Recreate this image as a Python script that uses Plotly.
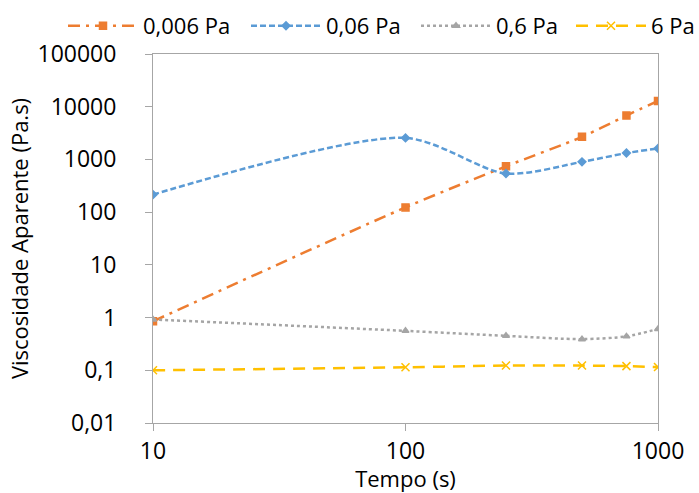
import plotly.graph_objects as go

tempo = [10, 100, 250, 500, 750, 1000]
v_0006 = [0.85, 123, 740, 2680, 6800, 12900]
v_006 = [215, 2560, 540, 900, 1320, 1620]
v_06 = [0.92, 0.56, 0.45, 0.39, 0.44, 0.61]
v_6 = [0.10, 0.114, 0.123, 0.123, 0.12, 0.115]

names = ["0,006 Pa", "0,06 Pa", "0,6 Pa", "6 Pa"]
y_ticks = [0.01, 0.1, 1, 10, 100, 1000, 10000, 100000]
y_tick_text = ["0,01", "0,1", "1", "10", "100", "1000", "10000", "100000"]
x_ticks = [10, 100, 1000]
x_tick_text = ["10", "100", "1000"]

FONT = "Open Sans"
W, H = 699, 493

styles = [
    dict(color="#ED7D31", dash="12px,6px,3px,6px", symbol="square", size=7),
    dict(color="#5B9BD5", dash="6px,3px", symbol="diamond", size=6),
    dict(color="#A5A5A5", dash="dot", symbol="triangle-up", size=6),
    dict(color="#FFC000", dash="12px,8px", symbol="x-thin", size=8),
]
legend_ids = ["legend", "legend2", "legend3", "legend4"]
legend_x_px = [63, 246, 416, 571]

fig = go.Figure()
for name, vals, st, lid in zip(names, [v_0006, v_006, v_06, v_6], styles, legend_ids):
    fig.add_trace(go.Scatter(
        x=tempo, y=vals, name=name, mode="lines+markers", legend=lid,
        line=dict(color=st["color"], dash=st["dash"], width=2.5, shape="spline", smoothing=0.8),
        marker=dict(symbol=st["symbol"], size=st["size"], color=st["color"],
                    line=dict(color=st["color"], width=1.5)),
    ))

axis_common = dict(
    showgrid=False, showline=True, linecolor="#A6A6A6", linewidth=1, mirror=True,
    ticks="outside", ticklen=7, tickcolor="#A6A6A6",
    tickfont=dict(family=FONT, size=23, color="#000"),
)

legends = {}
for lid, xp in zip(legend_ids, legend_x_px):
    legends[lid] = dict(orientation="h", xref="container", yref="container",
                        x=xp / W, y=0.99, xanchor="left", yanchor="top",
                        font=dict(family=FONT, size=22), itemwidth=70,
                        bgcolor="rgba(0,0,0,0)")

fig.update_layout(
    width=W, height=H,
    margin=dict(l=153, r=41, t=54, b=70, autoexpand=False),
    plot_bgcolor="white", paper_bgcolor="white",
    font=dict(family=FONT, color="#000"),
    showlegend=True,
    xaxis=dict(type="log", range=[1, 3], tickvals=x_ticks, ticktext=x_tick_text,
               title=dict(text="Tempo (s)", font=dict(family=FONT, size=22), standoff=0),
               **axis_common),
    yaxis=dict(type="log", range=[-2, 5], tickvals=y_ticks, ticktext=y_tick_text,
               ticklabelstandoff=24,
               title=dict(text="Viscosidade Aparente (Pa.s)", font=dict(family=FONT, size=22), standoff=2),
               **axis_common),
    **legends,
)

fig.write_html("out.html")
